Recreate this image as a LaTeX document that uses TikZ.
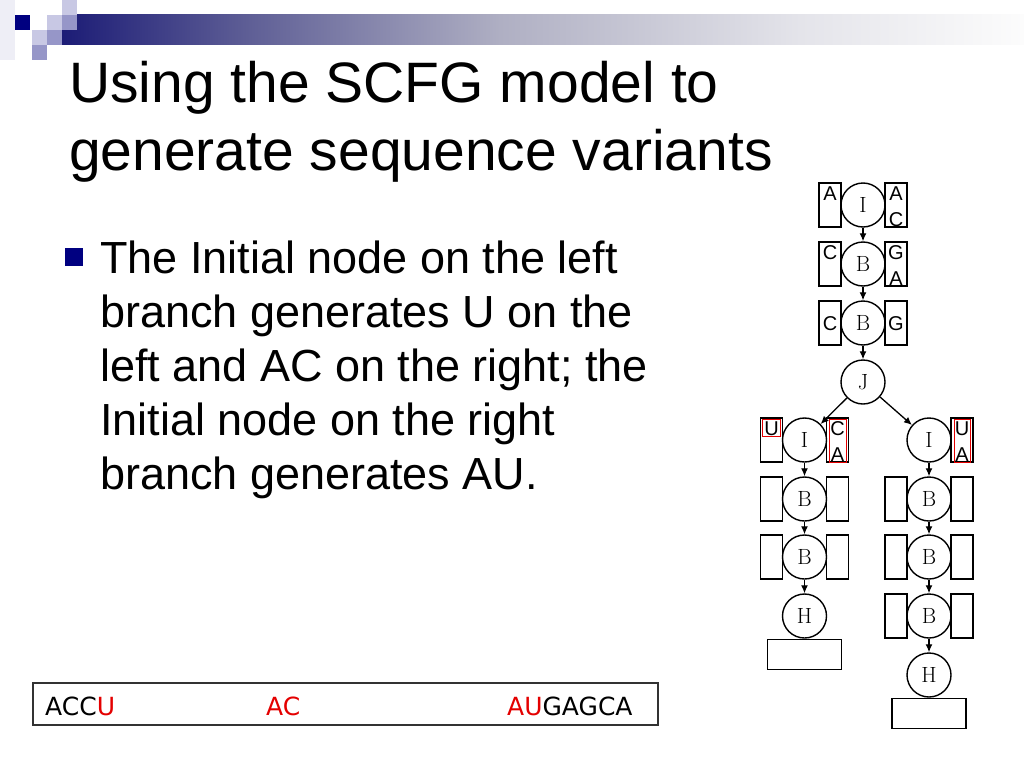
\documentclass[tikz,border=0pt]{standalone}
\usepackage{fontspec}
\newfontfamily\arialf{Liberation Sans}
\newfontfamily\dejavuf{DejaVu Sans}
\usetikzlibrary{arrows.meta}
\definecolor{navyc}{RGB}{0,0,128}
\definecolor{redc}{RGB}{228,0,0}
\definecolor{gA}{RGB}{28,28,118}
\definecolor{gB}{RGB}{95,95,150}
\definecolor{gC}{RGB}{175,175,195}
\definecolor{gD}{RGB}{228,228,234}
\definecolor{gE}{RGB}{252,252,252}
\definecolor{sqlight}{RGB}{200,200,228}
\definecolor{sqmid}{RGB}{150,150,200}
\definecolor{sqfaint}{RGB}{238,238,246}
\definecolor{boxline}{RGB}{50,50,50}
\tikzset{
  circ/.style={circle, draw, line width=1.4pt, minimum size=44pt, inner sep=0pt, font=\fontsize{22}{22}\selectfont},
  sbox/.style={draw, line width=1.4pt, minimum width=22pt, minimum height=44pt, inner sep=0pt},
  lett/.style={font=\arialf\fontsize{20}{20}\selectfont, inner sep=0pt, anchor=base},
  arr/.style={-{Latex[length=8pt,width=7pt]}, line width=1.3pt},
  hbox/.style={draw, line width=1.4pt, minimum width=74pt, minimum height=30pt, inner sep=0pt, anchor=north},
  redbox/.style={draw=redc, line width=0.7pt},
  titletxt/.style={font=\arialf\fontsize{57}{68}\selectfont, inner sep=0pt, anchor=base west},
  bodytxt/.style={font=\arialf\fontsize{45}{54}\selectfont, inner sep=0pt, anchor=base west},
  seqtxt/.style={font=\dejavuf\fontsize{25}{25}\selectfont, inner sep=0pt, anchor=base west}
}
\begin{document}
\begin{tikzpicture}[x=1pt,y=-1pt]
\useasboundingbox[fill=white] (0,0) rectangle (1024,768);
% header decoration
\fill[left color=gA, right color=gB, draw=none] (62,15) rectangle (250,45);
\fill[left color=gB, right color=gC, draw=none] (250,15) rectangle (500,45);
\fill[left color=gC, right color=gD, draw=none] (500,15) rectangle (800,45);
\fill[left color=gD, right color=gE, draw=none] (800,15) rectangle (1024,45);
\fill[sqfaint] (0,0) rectangle (15,60);
\fill[navyc] (15,15) rectangle (30,30);
\fill[sqlight] (62,0) rectangle (77,15);
\fill[sqlight] (47,15) rectangle (62,30);
\fill[sqmid] (62,15) rectangle (77,30);
\fill[sqlight] (32,30) rectangle (47,45);
\fill[sqmid] (47,30) rectangle (62,45);
\fill[sqmid] (32,45) rectangle (47,60);
% title
\node[titletxt] (t1) at (69,102) {Using the SCFG model to};
\node[titletxt] (t2) at (69,170) {generate sequence variants};
% bullet
\fill[navyc] (65,248) rectangle (83,266);
\node[bodytxt] (b1) at (100,273) {The Initial node on the left};
\node[bodytxt] (b2) at (100,327) {branch generates U on the};
\node[bodytxt] (b3) at (100,381) {left and AC on the right; the};
\node[bodytxt] (b4) at (100,435) {Initial node on the right};
\node[bodytxt] (b5) at (100,489) {branch generates AU.};
% sequence box
\node[draw=boxline, line width=1.1pt, minimum width=625pt, minimum height=42pt, inner sep=0pt] (seq) at (345.5,704) {};
\node[seqtxt] (s1) at (45,715) {ACC\textcolor{redc}{U}};
\node[seqtxt, text=redc] (s2) at (266,715) {AC};
\node[seqtxt] (s3) at (507,715) {\textcolor{redc}{AU}GAGCA};
% top chain
\node[circ] (I0) at (863,205) {I};
\node[sbox] (I0l) at (830,205) {};
\node[sbox] (I0r) at (896,205) {};
\node[lett] (I0la) at (830,200) {A};
\node[lett] (I0ra) at (896,200) {A};
\node[lett] (I0rc) at (896,226) {C};
\node[circ] (B0) at (863,264) {B};
\node[sbox] (B0l) at (830,264) {};
\node[sbox] (B0r) at (896,264) {};
\node[lett] (B0la) at (830,259) {C};
\node[lett] (B0ra) at (896,259) {G};
\node[lett] (B0rb) at (896,285) {A};
\node[circ] (B00) at (863,323) {B};
\node[sbox] (B00l) at (830,323) {};
\node[sbox] (B00r) at (896,323) {};
\node[lett] (B00la) at (830,330.5) {C};
\node[lett] (B00ra) at (896,330.5) {G};
\node[circ] (J) at (863,382) {J};
\draw[arr] (I0) -- (B0);
\draw[arr] (B0) -- (B00);
\draw[arr] (B00) -- (J);
% left branch
\node[circ] (LI) at (804.5,440) {I};
\node[sbox] (LIl) at (771.5,440) {};
\node[sbox] (LIr) at (837.5,440) {};
\node[lett] (LIlu) at (771.5,435) {U};
\node[lett] (LIrc) at (837.5,435) {C};
\node[lett] (LIra) at (837.5,461) {A};
\draw[redbox] (762.5,419.5) rectangle (780.5,436.5);
\draw[redbox] (829.5,419.5) rectangle (846,462);
\node[circ] (LB1) at (804.5,499) {B};
\node[sbox] (LB1l) at (771.5,499) {};
\node[sbox] (LB1r) at (837.5,499) {};
\node[circ] (LB2) at (804.5,557) {B};
\node[sbox] (LB2l) at (771.5,557) {};
\node[sbox] (LB2r) at (837.5,557) {};
\node[circ] (LH) at (804.5,616) {H};
\node[hbox] (Lbot) at (LH.south) {};
\draw[arr] (J) -- (LI);
\draw[arr] (LI) -- (LB1);
\draw[arr] (LB1) -- (LB2);
\draw[arr] (LB2) -- (LH);
% right branch
\node[circ] (RI) at (929,440) {I};
\node[sbox] (RIr) at (962,440) {};
\node[lett] (RIru) at (962,435) {U};
\node[lett] (RIra) at (962,461) {A};
\draw[redbox] (954,419.5) rectangle (970.5,462);
\node[circ] (RB1) at (929,499) {B};
\node[sbox] (RB1l) at (896,499) {};
\node[sbox] (RB1r) at (962,499) {};
\node[circ] (RB2) at (929,557) {B};
\node[sbox] (RB2l) at (896,557) {};
\node[sbox] (RB2r) at (962,557) {};
\node[circ] (RB3) at (929,616) {B};
\node[sbox] (RB3l) at (896,616) {};
\node[sbox] (RB3r) at (962,616) {};
\node[circ] (RH) at (929,675) {H};
\node[hbox] (Rbot) at (RH.south) {};
\draw[arr] (J) -- (RI);
\draw[arr] (RI) -- (RB1);
\draw[arr] (RB1) -- (RB2);
\draw[arr] (RB2) -- (RB3);
\draw[arr] (RB3) -- (RH);
\end{tikzpicture}
\end{document}
